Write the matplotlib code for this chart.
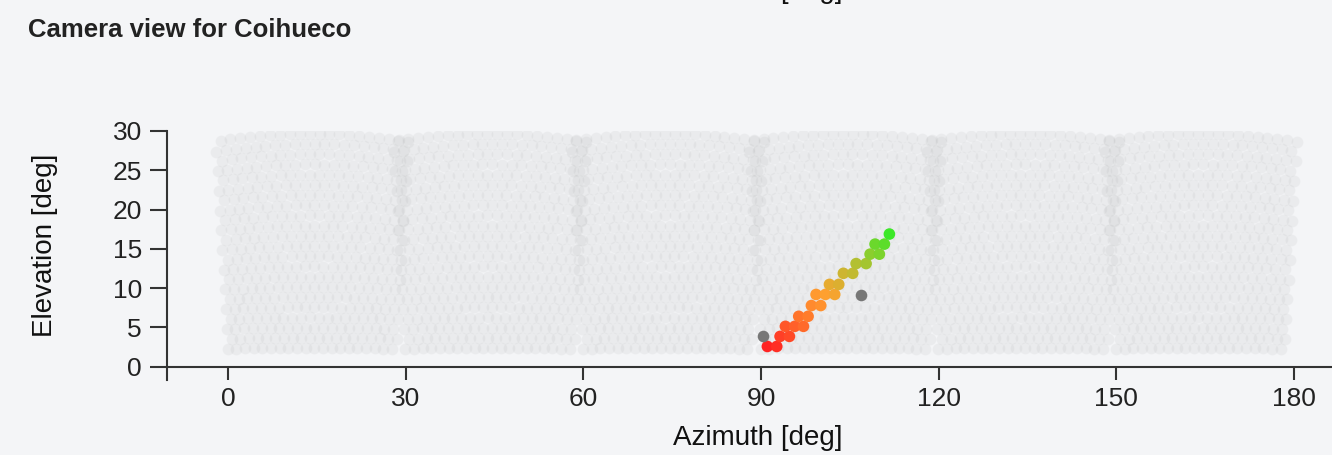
import numpy as np
import matplotlib.pyplot as plt
from matplotlib.colors import LinearSegmentedColormap

plt.rcParams['font.family'] = ['Liberation Sans', 'DejaVu Sans']

# camera layout (Coihueco: six cameras, 30 deg each)
cam_az = [14.2, 44.2, 74.2, 104.2, 134.2, 164.2]
cam_el = 16.0
n_rows, n_cols = 22, 20
pitch = 1.5

# triggered pixels: azimuth, elevation, time
hit_az = [91.07, 92.65, 93.21, 94.79, 94.11, 95.69, 97.16, 96.36, 97.94,
          98.50, 100.08, 99.29, 100.87, 102.44, 101.55, 103.12, 103.90,
          105.48, 106.05, 107.74, 108.41, 109.98, 109.25, 110.83, 111.67]
hit_el = [2.57, 2.57, 3.85, 3.85, 5.13, 5.13, 5.13, 6.41, 6.41,
          7.78, 7.78, 9.19, 9.19, 9.19, 10.47, 10.47, 11.88,
          11.88, 13.12, 13.12, 14.32, 14.32, 15.60, 15.60, 16.88]
hit_t = [0.0, 0.5, 1.2, 1.6, 2.2, 2.6, 3.0, 3.6, 4.0,
         4.8, 5.2, 5.6, 6.0, 6.4, 7.0, 7.4, 8.0,
         8.4, 9.0, 9.4, 10.0, 10.4, 10.8, 11.2, 12.0]

# pixels with signal but not in the track
noise_az = [90.29, 106.80]
noise_el = [3.85, 9.06]


def camera_pixels(c_az, e0):
    rows, cols = np.mgrid[0:n_rows, 0:n_cols]
    u = (cols - (n_cols - 1) / 2 + np.where(rows % 2, 0.25, -0.25)) * pitch
    v = (rows - (n_rows - 1) / 2) * pitch * np.sqrt(3) / 2
    tu, tv = np.tan(np.radians(u)), np.tan(np.radians(v))
    e = np.radians(e0)
    fwd = np.cos(e) - tv * np.sin(e)
    up = np.sin(e) + tv * np.cos(e)
    az = c_az + np.degrees(np.arctan2(tu, fwd))
    el = np.degrees(np.arctan2(up, np.hypot(fwd, tu)))
    return az.ravel(), el.ravel()


bg = '#f4f5f7'
fig = plt.figure(figsize=(13.32, 4.55), dpi=100, facecolor=bg)
ax = fig.add_axes([167 / 1332, 1 - 380 / 455, 1 - 167 / 1332, 249 / 455])
ax.set_facecolor(bg)

for c in cam_az:
    az, el = camera_pixels(c, cam_el)
    ax.scatter(az, el, s=72, color='#a0a2a2', alpha=0.11, linewidths=0, zorder=1)

cmap = LinearSegmentedColormap.from_list(
    'time', ['#ff2323', '#ff6a2a', '#ffa030', '#b4c031', '#3ce828'])
ax.scatter(hit_az, hit_el, c=hit_t, cmap=cmap, s=70, linewidths=0, zorder=3)
ax.scatter(noise_az, noise_el, color='#777777', s=70, linewidths=0, zorder=3)

ax.set_xlim(-10.3, 186.4)
ax.set_ylim(-1.7, 30)
ax.set_xticks(range(0, 181, 30))
ax.set_yticks(range(0, 31, 5))

for s in ['top', 'right']:
    ax.spines[s].set_visible(False)
ax.spines['bottom'].set_position(('data', 0))
for s in ['left', 'bottom']:
    ax.spines[s].set_color('#333333')
    ax.spines[s].set_linewidth(1.5)

ax.tick_params(axis='x', length=9, width=1.5, color='#333333', pad=6,
               labelsize=19, labelcolor='#222222')
ax.tick_params(axis='y', length=12, width=1.5, color='#333333', pad=6,
               labelsize=19, labelcolor='#222222')

fig.text(758 / 1332, 1 - 438 / 455, 'Azimuth [deg]', ha='center', va='center',
         fontsize=20, color='#111111')
fig.text(45 / 1332, 1 - 245 / 455, 'Elevation [deg]', ha='center', va='center',
         rotation=90, fontsize=20, color='#111111')
fig.text(28 / 1332, 1 - 30 / 455, 'Camera view for Coihueco', ha='left',
         va='center', fontsize=18.5, fontweight='bold', color='#222222')
# label of the chart above, cut off by the top edge
fig.text(758 / 1332, 1 + 2 / 455, 'Azimuth [deg]', ha='center', va='baseline',
         fontsize=20, color='#111111')

fig.savefig('out.png', dpi=100, facecolor=bg)
